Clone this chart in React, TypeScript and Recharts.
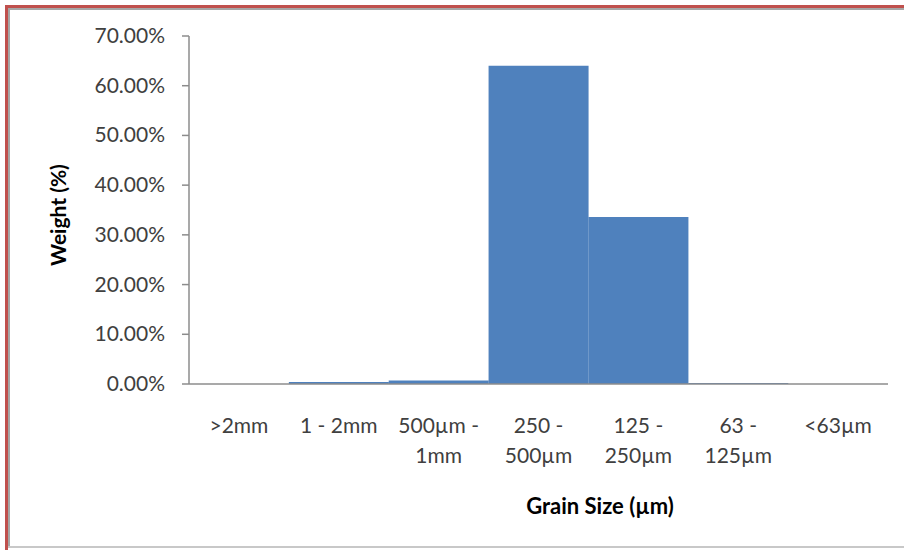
import React from 'react';
import { BarChart, Bar, XAxis, YAxis, Label } from 'recharts';

const categories = ['>2mm', '1 - 2mm', '500µm - 1mm', '250 - 500µm', '125 - 250µm', '63 - 125µm', '<63µm'];
// category labels broken over two lines the way the chart shows them
const categoryLines = [
  ['>2mm'],
  ['1 - 2mm'],
  ['500µm -', '1mm'],
  ['250 -', '500µm'],
  ['125 -', '250µm'],
  ['63 -', '125µm'],
  ['<63µm'],
];
const weights = [0, 0.004, 0.007, 0.64, 0.336, 0.002, 0];
const yTicks = [0, 0.1, 0.2, 0.3, 0.4, 0.5, 0.6, 0.7];

const data = categories.map((c, i) => ({ name: c, weight: weights[i] }));

const FONT = 'Lato, "Open Sans", sans-serif';
const TEXT = '#404040';
const AXIS = '#8c8c8c';

const CategoryTick = (props: any) => {
  const { x, y, index } = props;
  const lines = categoryLines[index] || [];
  return (
    <g>
      {lines.map((line, i) => (
        <text
          key={i}
          x={x}
          y={y + 41 + i * 30}
          textAnchor="middle"
          fill={TEXT}
          fontSize={21}
          fontFamily={FONT}
        >
          {line}
        </text>
      ))}
    </g>
  );
};

const PercentTick = (props: any) => {
  const { x, y, payload } = props;
  return (
    <text x={x - 15} y={y + 7} textAnchor="end" fill={TEXT} fontSize={21} fontFamily={FONT}>
      {(payload.value * 100).toFixed(2)}%
    </text>
  );
};

const App: React.FC = () => {
  return (
    <div style={{ position: 'absolute', left: 0, top: 0, width: 904, height: 550, background: '#fff' }}>
      {/* frame */}
      <div style={{ position: 'absolute', left: 5, top: 5, width: 899, height: 3, background: '#C0504D' }} />
      <div style={{ position: 'absolute', left: 5, top: 5, width: 3, height: 545, background: '#C0504D' }} />
      <div style={{ position: 'absolute', left: 8, top: 8, width: 896, height: 2, background: '#a6a6a6' }} />
      <div style={{ position: 'absolute', left: 8, top: 8, width: 2, height: 540, background: '#a6a6a6' }} />
      <div style={{ position: 'absolute', left: 8, top: 546, width: 896, height: 2, background: '#c8c8c8' }} />

      <div style={{ position: 'absolute', left: 0, top: 0 }}>
        <BarChart
          width={904}
          height={550}
          data={data}
          margin={{ top: 36, right: 16, left: 0, bottom: 0 }}
          barCategoryGap={0}
        >
          <XAxis
            dataKey="name"
            height={166}
            tickLine={false}
            axisLine={{ stroke: AXIS, strokeWidth: 1.5 }}
            tick={<CategoryTick />}
            interval={0}
          >
            <Label
              value="Grain Size (µm)"
              content={() => (
                <text
                  x={600}
                  y={514}
                  textAnchor="middle"
                  fill="#000"
                  fontSize={22}
                  fontWeight="bold"
                  fontFamily={FONT}
                >
                  Grain Size (µm)
                </text>
              )}
            />
          </XAxis>
          <YAxis
            width={189}
            domain={[0, 0.7]}
            ticks={yTicks}
            interval={0}
            tickSize={7}
            tickLine={{ stroke: AXIS, strokeWidth: 1.5 }}
            axisLine={{ stroke: AXIS, strokeWidth: 1.5 }}
            tick={<PercentTick />}
          >
            <Label
              value="Weight (%)"
              content={() => (
                <text
                  x={66}
                  y={215}
                  transform="rotate(-90 66 215)"
                  textAnchor="middle"
                  fill="#000"
                  fontSize={21}
                  fontWeight="bold"
                  fontFamily={FONT}
                >
                  Weight (%)
                </text>
              )}
            />
          </YAxis>
          <Bar dataKey="weight" fill="#4F81BD" isAnimationActive={false} />
        </BarChart>
      </div>
    </div>
  );
};

export default App;
